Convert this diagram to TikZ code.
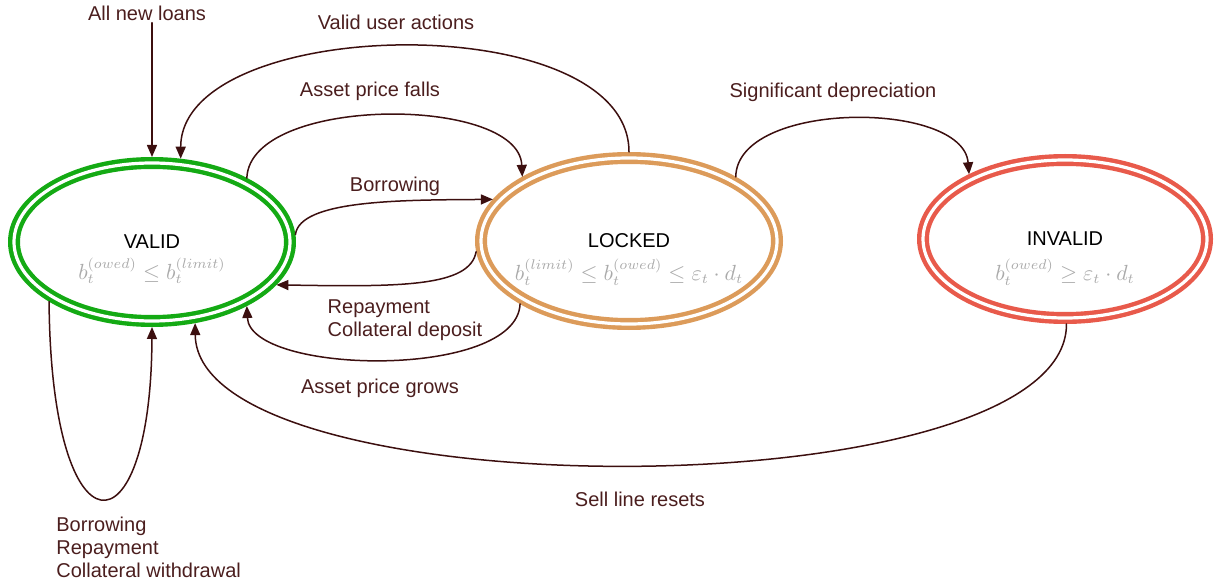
\documentclass[tikz,border=0pt]{standalone}
\usepackage{amsmath,amssymb}
\usepackage{fontspec}
\setmainfont{Liberation Sans}
\usetikzlibrary{arrows.meta,shapes.geometric}
\definecolor{validgreen}{RGB}{20,170,20}
\definecolor{lockedorange}{RGB}{220,155,90}
\definecolor{invalidred}{RGB}{232,90,75}
\definecolor{edgebrown}{RGB}{60,15,15}
\definecolor{textbrown}{RGB}{75,30,30}
\definecolor{formulagray}{RGB}{170,170,170}

\tikzset{
  state/.style={ellipse, double, line width=2.2pt, double distance=1.6pt, inner sep=0pt, outer sep=3pt, font=\fontsize{10}{12}\selectfont},
  formula/.style={text=formulagray, inner sep=0pt, font=\fontsize{10.6}{13}\selectfont},
  edge/.style={draw=edgebrown, line width=0.75pt, -{Triangle[length=6pt,width=5pt]}},
  lbl/.style={text=textbrown, inner sep=1pt, font=\fontsize{10}{11.5}\selectfont}
}

\begin{document}
\begin{tikzpicture}[line cap=round,line join=round,x=0.5pt,y=-0.5pt]
    \useasboundingbox (0,0) rectangle (1225,588);
    \node[state, draw=validgreen, minimum width=138pt, minimum height=79pt] (valid) at (152,242) {VALID};
    \node[state, draw=lockedorange, minimum width=148pt, minimum height=83pt] (locked) at (629,241) {LOCKED};
    \node[state, draw=invalidred, minimum width=142pt, minimum height=79pt] (invalid) at (1065,239) {INVALID};
    \node[formula] (validf) at (152,271) {$b_t^{(owed)} \leq b_t^{(limit)}$};
    \node[formula] (lockedf) at (629,272) {$b_t^{(limit)} \leq b_t^{(owed)} \leq \varepsilon_t \cdot d_t$};
    \node[formula] (invalidf) at (1065,272) {$b_t^{(owed)} \geq \varepsilon_t \cdot d_t$};

    \node[lbl] (newloans) at (147,13) {All new loans};
    \node[lbl] (useractions) at (396,22) {Valid user actions};
    \node[lbl] (pricefalls) at (370,91) {Asset price falls};
    \node[lbl] (borrowing) at (395,186) {Borrowing};
    \node[lbl, align=left] (repayment) at (405,320) {Repayment\\Collateral deposit};
    \node[lbl] (pricegrows) at (380,388) {Asset price grows};
    \node[lbl] (depreciation) at (833,92) {Significant depreciation};
    \node[lbl] (resets) at (640,499) {Sell line resets};
    \node[lbl, align=left, anchor=west] (selfloop) at (54,547) {Borrowing\\Repayment\\Collateral withdrawal};

    \draw[edge] (newloans.south -| valid.north) -- (valid.north);
    \draw[edge] (locked.90) .. controls (629,6) and (181,14) .. (valid.71);
    \draw[edge] (valid.34) .. controls (250,95) and (519,95) .. (locked.149);
    \draw[edge] (valid.3) .. controls (300,200) and (400,200) .. (locked.163);
    \draw[edge] (locked.184) .. controls (470,287) and (400,287) .. (valid.-19);
    \draw[edge] (locked.-150) .. controls (517,380) and (250,375) .. (valid.-34);
    \draw[edge] (locked.31) .. controls (737,100) and (963,100) .. (invalid.146);
    \draw[edge] (invalid.-89) .. controls (1067,512) and (197,512) .. (valid.-62);
    \draw[edge] (valid.-150) .. controls (51,560) and (151,560) .. (valid.-90);
\end{tikzpicture}
\end{document}
